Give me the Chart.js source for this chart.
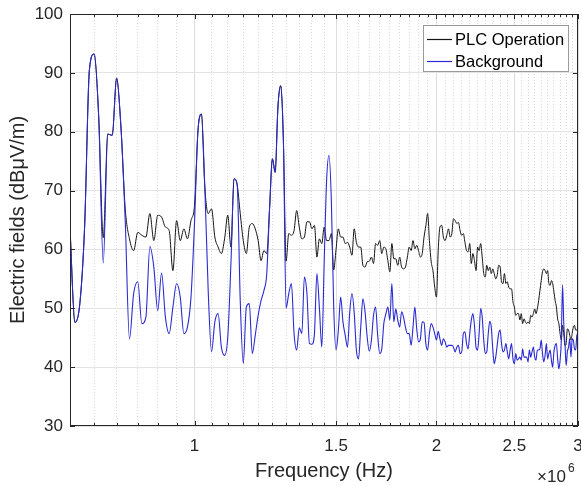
<!DOCTYPE html>
<html>
<head>
<meta charset="utf-8">
<script src="https://cdn.jsdelivr.net/npm/chart.js@4.4.1/dist/chart.umd.min.js"></script>
<style>
  html, body { margin: 0; padding: 0; background: #fff; }
  #wrap { width: 581px; height: 486px; }
</style>
</head>
<body>
<div id="wrap"><canvas id="c" width="581" height="486"></canvas></div>
<script>
// frequency in units of 10^6 Hz
const FREQ_MHZ = [
  0.70, 0.71, 0.72, 0.73, 0.74, 0.75, 0.76, 0.77, 0.78, 0.79,
  0.80, 0.81, 0.82, 0.83, 0.84, 0.85, 0.86, 0.87, 0.88, 0.89,
  0.90, 0.91, 0.92, 0.93, 0.94, 0.95, 0.96, 0.97, 0.98, 0.99,
  1.00, 1.01, 1.02, 1.03, 1.04, 1.05, 1.06, 1.07, 1.08, 1.09,
  1.10, 1.11, 1.12, 1.13, 1.14, 1.15, 1.16, 1.17, 1.18, 1.19,
  1.20, 1.21, 1.22, 1.23, 1.24, 1.25, 1.26, 1.27, 1.28, 1.29,
  1.30, 1.31, 1.32, 1.33, 1.34, 1.35, 1.36, 1.37, 1.38, 1.39,
  1.40, 1.41, 1.42, 1.43, 1.44, 1.45, 1.46, 1.47, 1.48, 1.49,
  1.50, 1.51, 1.52, 1.53, 1.54, 1.55, 1.56, 1.57, 1.58, 1.59,
  1.60, 1.61, 1.62, 1.63, 1.64, 1.65, 1.66, 1.67, 1.68, 1.69,
  1.70, 1.71, 1.72, 1.73, 1.74, 1.75, 1.76, 1.77, 1.78, 1.79,
  1.80, 1.81, 1.82, 1.83, 1.84, 1.85, 1.86, 1.87, 1.88, 1.89,
  1.90, 1.91, 1.92, 1.93, 1.94, 1.95, 1.96, 1.97, 1.98, 1.99,
  2.00, 2.01, 2.02, 2.03, 2.04, 2.05, 2.06, 2.07, 2.08, 2.09,
  2.10, 2.11, 2.12, 2.13, 2.14, 2.15, 2.16, 2.17, 2.18, 2.19,
  2.20, 2.21, 2.22, 2.23, 2.24, 2.25, 2.26, 2.27, 2.28, 2.29,
  2.30, 2.31, 2.32, 2.33, 2.34, 2.35, 2.36, 2.37, 2.38, 2.39,
  2.40, 2.41, 2.42, 2.43, 2.44, 2.45, 2.46, 2.47, 2.48, 2.49,
  2.50, 2.51, 2.52, 2.53, 2.54, 2.55, 2.56, 2.57, 2.58, 2.59,
  2.60, 2.61, 2.62, 2.63, 2.64, 2.65, 2.66, 2.67, 2.68, 2.69,
  2.70, 2.71, 2.72, 2.73, 2.74, 2.75, 2.76, 2.77, 2.78, 2.79,
  2.80, 2.81, 2.82, 2.83, 2.84, 2.85, 2.86, 2.87, 2.88, 2.89,
  2.90, 2.91, 2.92, 2.93, 2.94, 2.95, 2.96, 2.97, 2.98, 2.99,
  3.00
];

// dBuV/m
const PLC_OPERATION = [
  63.5, 47.6, 50.8, 64.0, 90.5, 93.2, 82.5, 62.0, 79.6, 79.4,
  89.1, 80.8, 66.9, 61.8, 59.8, 62.9, 62.4, 62.1, 66.1, 61.5,
  65.8, 65.5, 63.8, 63.2, 56.4, 64.9, 61.5, 63.5, 61.8, 64.9,
  67.5, 80.2, 83.0, 70.6, 66.1, 66.9, 62.1, 60.4, 59.3, 61.8,
  65.8, 60.4, 72.0, 71.0, 66.1, 61.5, 59.3, 63.8, 64.4, 63.5,
  61.5, 58.1, 59.8, 59.3, 67.0, 75.4, 73.1, 84.2, 87.8, 78.5,
  58.0, 62.7, 62.4, 63.2, 66.6, 63.8, 61.8, 62.1, 64.7, 64.7,
  63.5, 64.1, 58.7, 61.8, 61.0, 63.8, 61.5, 61.5, 62.7, 56.5,
  60.0, 63.5, 62.1, 62.1, 61.0, 61.2, 60.4, 59.0, 63.5, 61.2,
  60.4, 60.4, 57.3, 57.0, 57.9, 58.0, 58.7, 57.6, 61.0, 60.7,
  61.5, 59.3, 60.4, 60.1, 58.1, 56.2, 61.0, 58.4, 58.4, 57.3,
  58.7, 57.0, 56.7, 57.0, 58.7, 60.4, 59.8, 61.5, 60.1, 60.7,
  59.8, 58.7, 59.3, 62.1, 64.0, 66.1, 61.5, 57.9, 56.4, 53.6,
  51.9, 59.8, 63.8, 64.1, 62.1, 61.5, 62.4, 63.5, 62.1, 62.7,
  65.2, 64.9, 64.4, 64.6, 63.2, 62.4, 62.7, 61.2, 59.8, 59.6,
  61.0, 57.6, 59.3, 58.1, 56.4, 60.4, 59.8, 61.0, 58.7, 55.9,
  55.3, 57.3, 56.4, 57.0, 55.9, 56.7, 55.9, 55.0, 55.6, 57.3,
  57.0, 54.5, 54.2, 55.9, 54.2, 54.5, 53.6, 53.3, 53.3, 51.1,
  50.2, 48.8, 49.1, 49.1, 48.0, 49.1, 47.4, 48.2, 47.7, 47.4,
  47.7, 47.4, 48.8, 48.5, 49.1, 49.9, 49.1, 49.9, 51.3, 53.0,
  54.7, 56.2, 56.7, 56.4, 55.9, 56.4, 54.2, 53.9, 54.7, 54.2,
  52.8, 51.3, 50.2, 48.2, 47.4, 45.7, 44.6, 47.1, 45.7, 43.7,
  44.0, 46.5, 46.3, 45.4, 44.6, 45.7, 46.8, 47.1, 46.3, 46.3,
  46.8
];

const BACKGROUND = [
  63.5, 47.6, 50.8, 64.0, 90.5, 93.2, 82.5, 57.7, 79.6, 79.4,
  89.1, 80.8, 64.9, 44.8, 52.5, 54.5, 47.4, 48.5, 60.5, 57.0,
  49.6, 56.0, 48.5, 45.7, 50.2, 54.2, 51.9, 45.7, 46.8, 51.9,
  64.5, 80.2, 83.0, 70.6, 53.0, 42.6, 47.7, 49.1, 43.4, 42.0,
  45.1, 57.6, 72.0, 71.0, 51.3, 40.6, 50.2, 50.8, 42.3, 45.4,
  48.8, 51.3, 53.0, 55.9, 67.0, 75.4, 73.1, 84.2, 87.8, 78.5,
  50.0, 52.5, 54.2, 45.7, 42.9, 46.7, 45.7, 55.3, 52.5, 44.0,
  43.9, 45.7, 55.9, 50.2, 43.4, 58.0, 71.7, 76.0, 68.3, 50.2,
  42.9, 46.3, 51.9, 47.7, 45.4, 43.4, 49.3, 52.5, 49.3, 42.9,
  41.4, 46.8, 51.6, 49.4, 45.1, 42.7, 44.6, 48.8, 50.2, 45.4,
  42.3, 43.1, 47.4, 49.0, 50.2, 48.0, 54.2, 47.7, 49.9, 48.0,
  46.8, 49.4, 48.5, 46.8, 45.7, 45.7, 43.7, 46.8, 50.2, 46.5,
  44.3, 44.8, 47.7, 47.6, 44.0, 42.9, 45.7, 47.4, 46.8, 45.7,
  44.6, 46.1, 44.8, 43.7, 44.8, 44.3, 43.4, 43.7, 43.7, 43.7,
  43.4, 42.6, 43.4, 43.7, 42.3, 42.6, 45.7, 46.0, 44.0, 43.1,
  45.7, 48.0, 49.1, 47.1, 43.4, 42.9, 45.7, 50.0, 48.5, 44.6,
  42.3, 42.6, 45.7, 47.8, 46.8, 43.1, 40.6, 41.7, 43.7, 45.7,
  46.3, 44.0, 42.6, 42.9, 44.0, 42.6, 41.4, 42.9, 44.0, 41.4,
  40.6, 42.3, 41.2, 41.4, 41.7, 41.2, 43.1, 41.7, 41.7, 41.7,
  40.9, 42.9, 41.7, 42.6, 43.4, 41.7, 41.2, 42.9, 42.9, 43.1,
  44.6, 42.3, 40.9, 42.0, 44.0, 41.4, 42.3, 42.9, 41.2, 40.0,
  42.6, 43.7, 44.0, 41.4, 39.7, 41.2, 44.6, 54.0, 47.5, 44.0,
  40.3, 42.6, 43.4, 44.8, 41.7, 44.8, 44.6, 43.1, 42.9, 45.4,
  45.7
];

const X_TICKS = [1, 1.5, 2, 2.5, 3];
const Y_TICKS = [30, 40, 50, 60, 70, 80, 90, 100];

const FONT = "'Liberation Sans', Arial, sans-serif";
const AXIS_COLOR = '#262626';
const TEXT_COLOR = '#262626';
const PLC_COLOR = '#141414';
const BG_COLOR = '#2a2ad2';

// dotted minor grid every 0.05e6
const X_GRID = [];
for (let i = 0; i <= 46; i++) X_GRID.push(Math.round((0.7 + i * 0.05) * 100) / 100);
const isMajorX = v => X_TICKS.includes(v);

const matlabAxes = {
  id: 'matlabAxes',
  afterDatasetsDraw(chart) {
    const { ctx, chartArea: a, scales: { x, y } } = chart;
    ctx.save();
    ctx.strokeStyle = AXIS_COLOR;
    ctx.lineWidth = 1;
    ctx.strokeRect(a.left + 0.5, a.top + 0.5, a.right - a.left - 1, a.bottom - a.top - 1);
    ctx.beginPath();
    x.ticks.forEach(t => {
      const px = Math.round(x.getPixelForValue(t.value)) + 0.5;
      const len = isMajorX(t.value) ? 5 : 3;
      ctx.moveTo(px, a.bottom); ctx.lineTo(px, a.bottom - len);
      ctx.moveTo(px, a.top); ctx.lineTo(px, a.top + len);
    });
    y.ticks.forEach(t => {
      const py = Math.round(y.getPixelForValue(t.value)) + 0.5;
      ctx.moveTo(a.left, py); ctx.lineTo(a.left + 5, py);
      ctx.moveTo(a.right, py); ctx.lineTo(a.right - 5, py);
    });
    ctx.stroke();

    // legend box, top right inside the axes
    const bx = a.right - 155, by = a.top + 11, bw = 145, bh = 46;
    const items = [['PLC Operation', PLC_COLOR], ['Background', BG_COLOR]];
    ctx.fillStyle = '#fff';
    ctx.fillRect(bx, by, bw, bh);
    ctx.strokeStyle = '#9a9a9a';
    ctx.strokeRect(bx + 0.5, by + 0.5, bw, bh);
    ctx.font = '16.5px ' + FONT;
    ctx.textBaseline = 'middle';
    ctx.textAlign = 'left';
    items.forEach(([label, color], i) => {
      const ly = by + 14 + i * 22;
      ctx.strokeStyle = color;
      ctx.lineWidth = 1.2;
      ctx.beginPath();
      ctx.moveTo(bx + 4, ly + 0.5); ctx.lineTo(bx + 29, ly + 0.5);
      ctx.stroke();
      ctx.fillStyle = '#000';
      ctx.fillText(label, bx + 32, ly + 1);
    });
    ctx.restore();
  },
  afterDraw(chart) {
    const { ctx, chartArea: a } = chart;
    ctx.save();
    ctx.fillStyle = TEXT_COLOR;
    ctx.textBaseline = 'alphabetic';
    ctx.textAlign = 'left';
    ctx.font = '17px ' + FONT;
    ctx.fillText('\u00d710', a.right - 41, 482);
    ctx.font = '12px ' + FONT;
    ctx.fillText('6', a.right - 10, 472);
    ctx.restore();
  }
};

new Chart(document.getElementById('c'), {
  type: 'line',
  data: {
    datasets: [
      {
        label: 'PLC Operation',
        data: FREQ_MHZ.map((f, i) => ({ x: f, y: PLC_OPERATION[i] })),
        borderColor: PLC_COLOR,
        borderWidth: 1,
        pointRadius: 0,
        cubicInterpolationMode: 'monotone',
        order: 2
      },
      {
        label: 'Background',
        data: FREQ_MHZ.map((f, i) => ({ x: f, y: BACKGROUND[i] })),
        borderColor: BG_COLOR,
        borderWidth: 1.1,
        pointRadius: 0,
        cubicInterpolationMode: 'monotone',
        order: 1
      }
    ]
  },
  options: {
    responsive: false,
    animation: false,
    layout: { padding: { top: 14, right: 3, left: 0, bottom: 0 } },
    plugins: { legend: { display: false }, tooltip: { enabled: false } },
    scales: {
      x: {
        type: 'logarithmic',
        min: 0.7,
        max: 3,
        afterBuildTicks: s => { s.ticks = X_GRID.map(v => ({ value: v })); },
        afterFit: s => { s.height = 60; s.paddingLeft = 0; s.paddingRight = 0; },
        ticks: {
          autoSkip: false,
          maxRotation: 0,
          padding: 10,
          color: TEXT_COLOR,
          font: { family: FONT, size: 17 },
          callback: v => (isMajorX(v) ? String(v) : '')
        },
        grid: {
          drawTicks: false,
          lineWidth: 1,
          color: c => (isMajorX(c.tick.value) ? '#dcdcdc' : '#dadada')
        },
        border: { display: false, dash: c => (c.tick && isMajorX(c.tick.value) ? [] : [1, 2]) },
        title: {
          display: true,
          text: 'Frequency (Hz)',
          color: TEXT_COLOR,
          font: { family: FONT, size: 20 },
          padding: { top: 0, bottom: 3 }
        }
      },
      y: {
        min: 30,
        max: 100,
        afterBuildTicks: s => { s.ticks = Y_TICKS.map(v => ({ value: v })); },
        afterFit: s => { s.width = 70; s.paddingTop = 0; s.paddingBottom = 0; },
        ticks: {
          padding: 7,
          color: TEXT_COLOR,
          font: { family: FONT, size: 17 }
        },
        grid: { drawTicks: false, color: '#e3e3e3', lineWidth: 1 },
        border: { display: false },
        title: {
          display: true,
          text: 'Electric fields (dBμV/m)',
          color: TEXT_COLOR,
          font: { family: FONT, size: 20 },
          padding: { top: 6, bottom: 0 }
        }
      }
    }
  },
  plugins: [matlabAxes]
});
</script>
</body>
</html>
